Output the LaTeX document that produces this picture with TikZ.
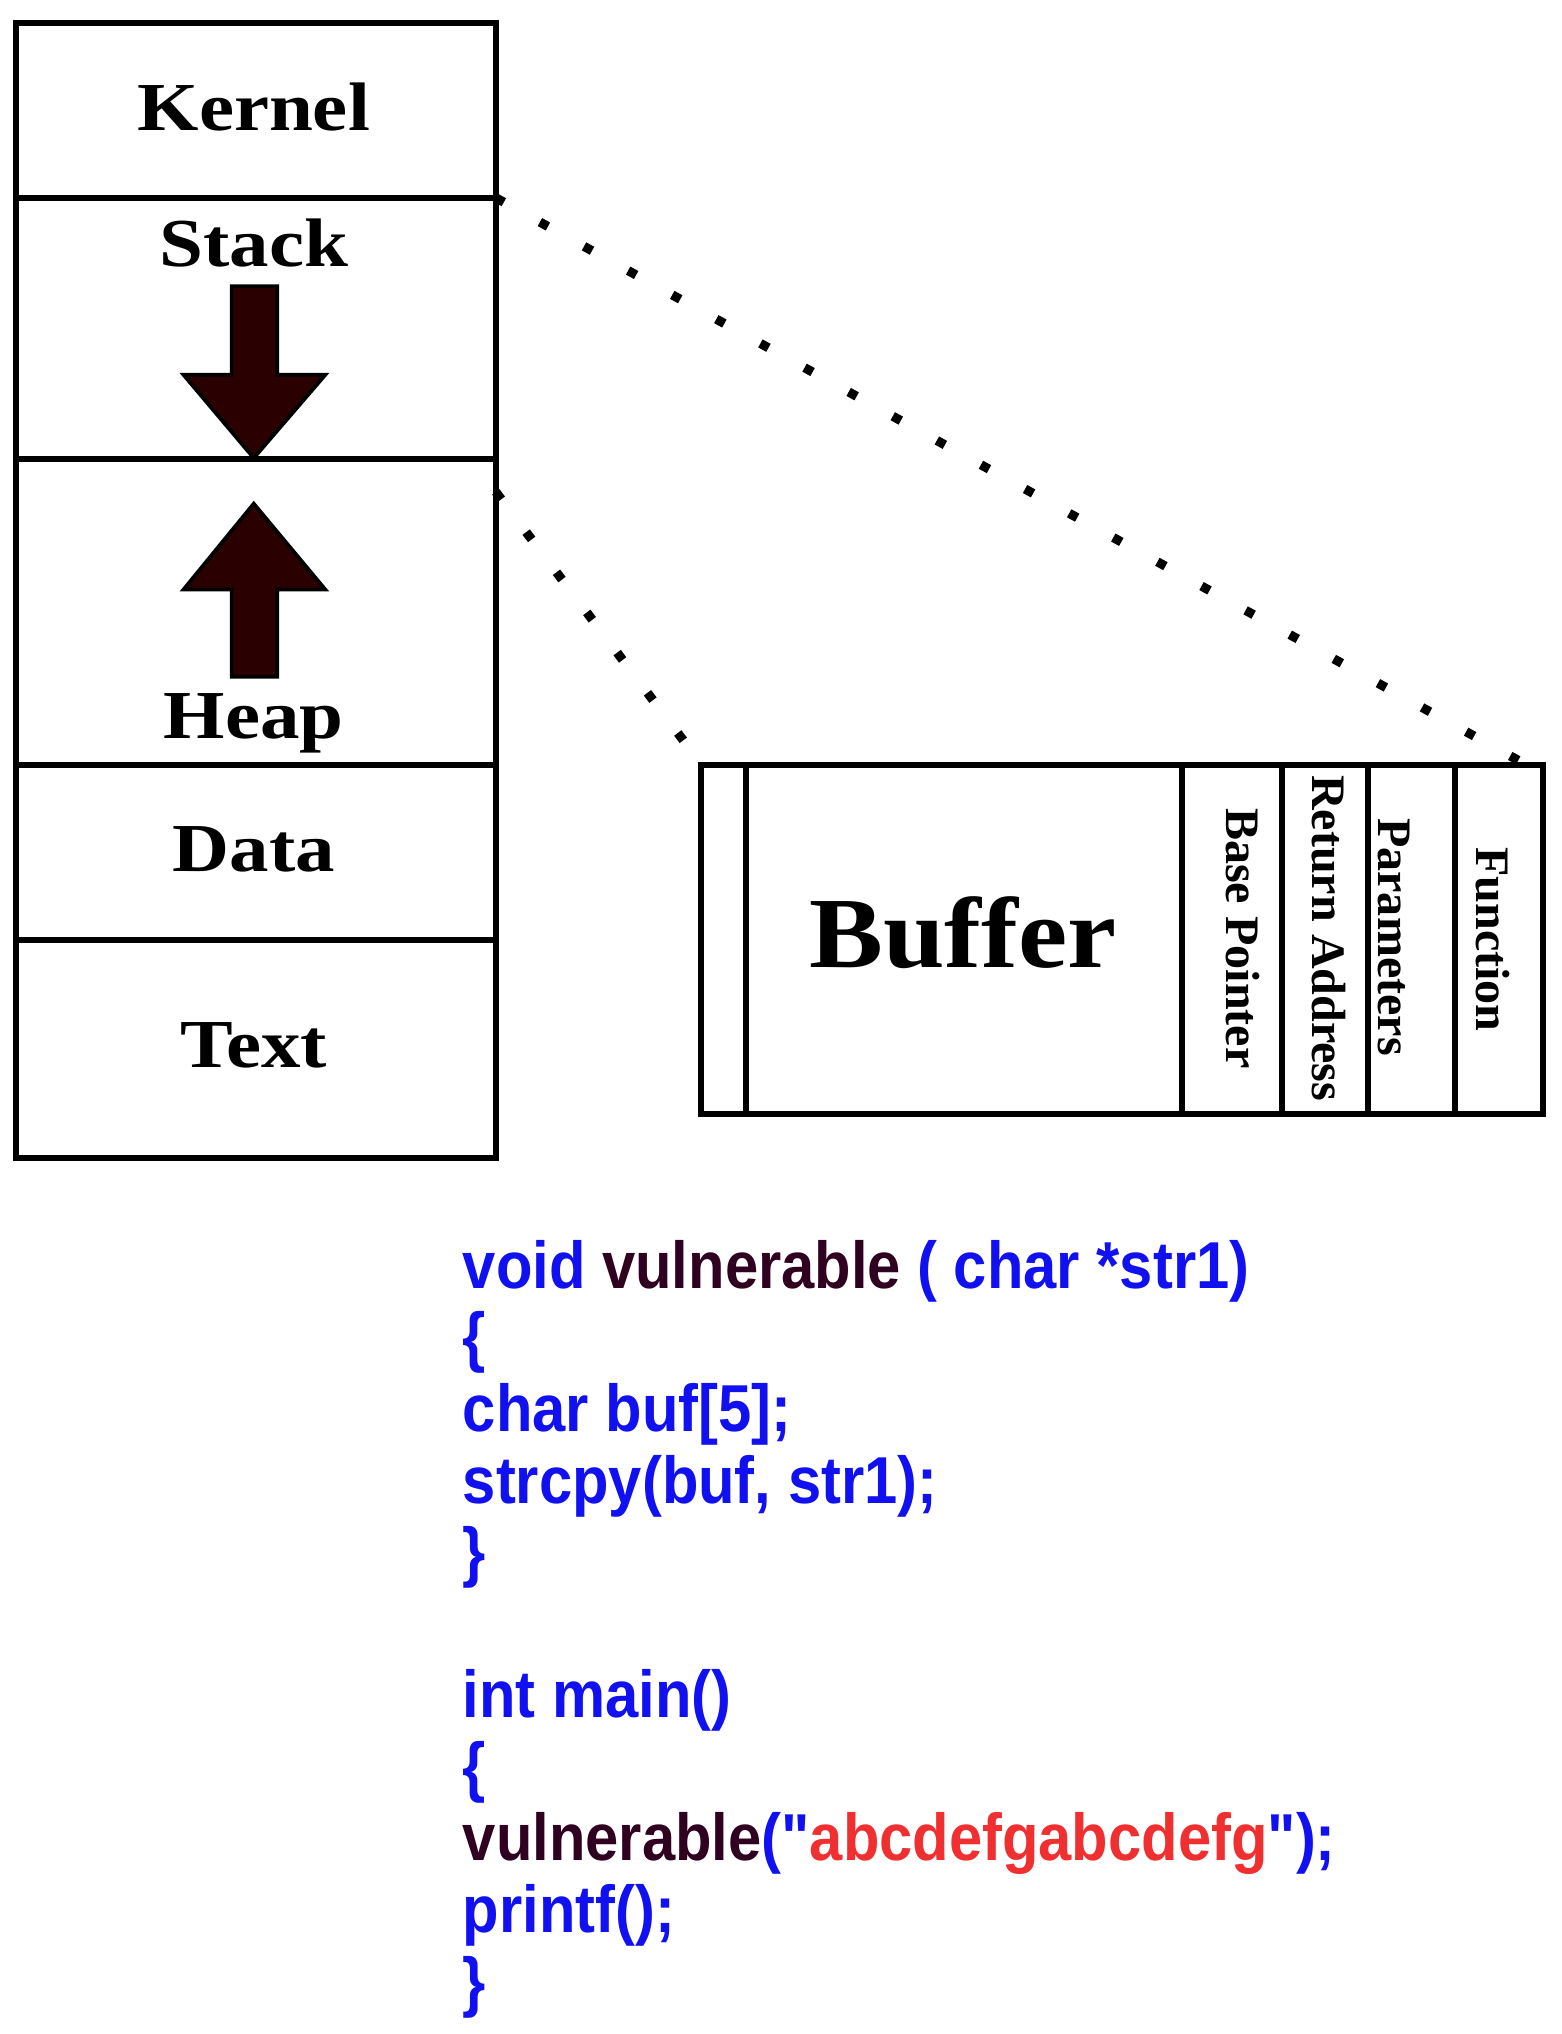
\documentclass[tikz,border=0pt]{standalone}
\usepackage{fontspec}
\setmainfont{Liberation Serif}
\newfontfamily\codefont{Liberation Sans}
\definecolor{arr}{HTML}{2A0000}
\definecolor{cblue}{HTML}{1010F0}
\definecolor{cdark}{HTML}{300020}
\definecolor{cred}{HTML}{F03030}
\begin{document}
\begin{tikzpicture}[x=0.01cm,y=-0.01cm,
  box/.style={draw=black,line width=1.3pt},
  lbl/.style={font=\fontsize{15}{16}\selectfont\bfseries,inner sep=0},
  vl/.style={font=\fontsize{10.5}{11}\selectfont\bfseries,rotate=-90,inner sep=0},
  bigarrow/.style={fill=arr,draw=black,line width=0.8pt},
  dots/.style={line width=2pt,dash pattern=on 2pt off 9pt},
  code/.style={font=\codefont\fontsize{14.5}{16}\selectfont\bfseries,anchor=base west,inner sep=0}]
\useasboundingbox (0,0) rectangle (1200,1563);
% left column
\draw[box] (12,18) rectangle (381,890);
\foreach \y in {152,353,588,722} \draw[box] (12,\y) -- (381,\y);
\node[lbl] (kernel) at (195,82) {\scalebox{1.15}[1]{Kernel}};
\node[lbl] (stack) at (195,187) {\scalebox{1.15}[1]{Stack}};
\node[lbl] (heap) at (195,556) {\scalebox{1.15}[1]{Heap}};
\node[lbl] (data) at (195,653) {\scalebox{1.15}[1]{Data}};
\node[lbl] (text) at (195,803) {\scalebox{1.15}[1]{Text}};
\draw[bigarrow] (178,220) -- (213,220) -- (213,288) -- (250,288) -- (195,352) -- (141,288) -- (178,288) -- cycle;
\draw[bigarrow] (178,520) -- (213,520) -- (213,453) -- (250,453) -- (195,387) -- (141,453) -- (178,453) -- cycle;
% dotted
\coordinate (s1) at (381,152);
\coordinate (e1) at (1168,585);
\coordinate (s2) at (381,378);
\coordinate (e2) at (535,582);
\draw[dots] (s1) -- (e1);
\draw[dots] (s2) -- (e2);
% buffer box
\draw[box] (539,588) rectangle (1186,856);
\foreach \x in {573,908,985,1051,1118} \draw[box] (\x,588) -- (\x,856);
\node[font=\fontsize{22}{24}\selectfont\bfseries,inner sep=0] (buf) at (740,717) {\scalebox{1.1}[1]{Buffer}};
\node[vl] (bp) at (955,721) {Base Pointer};
\node[vl] (ra) at (1021,721) {Return Address};
\node[vl] (pa) at (1071,720) {Parameters};
\node[vl] (fn) at (1147,722) {Function};
% code
\begin{scope}[every node/.style={code}]
\node (c1) at (355,990) {\scalebox{0.9}[1]{\color{cblue}void \color{cdark}vulnerable \color{cblue}( char *str1)}};
\node (c2) at (355,1045) {\scalebox{0.9}[1]{\color{cblue}\{}};
\node (c3) at (355,1100) {\scalebox{0.9}[1]{\color{cblue}char buf[5];}};
\node (c4) at (355,1155) {\scalebox{0.9}[1]{\color{cblue}strcpy(buf, str1);}};
\node (c5) at (355,1210) {\scalebox{0.9}[1]{\color{cblue}\}}};
\node (c6) at (355,1320) {\scalebox{0.9}[1]{\color{cblue}int main()}};
\node (c7) at (355,1375) {\scalebox{0.9}[1]{\color{cblue}\{}};
\node (c8) at (355,1430) {\scalebox{0.9}[1]{\color{cdark}vulnerable\color{cblue}("\color{cred}abcdefgabcdefg\color{cblue}");}};
\node (c9) at (355,1485) {\scalebox{0.9}[1]{\color{cblue}printf();}};
\node (c10) at (355,1540) {\scalebox{0.9}[1]{\color{cblue}\}}};
\end{scope}
\end{tikzpicture}
\end{document}
